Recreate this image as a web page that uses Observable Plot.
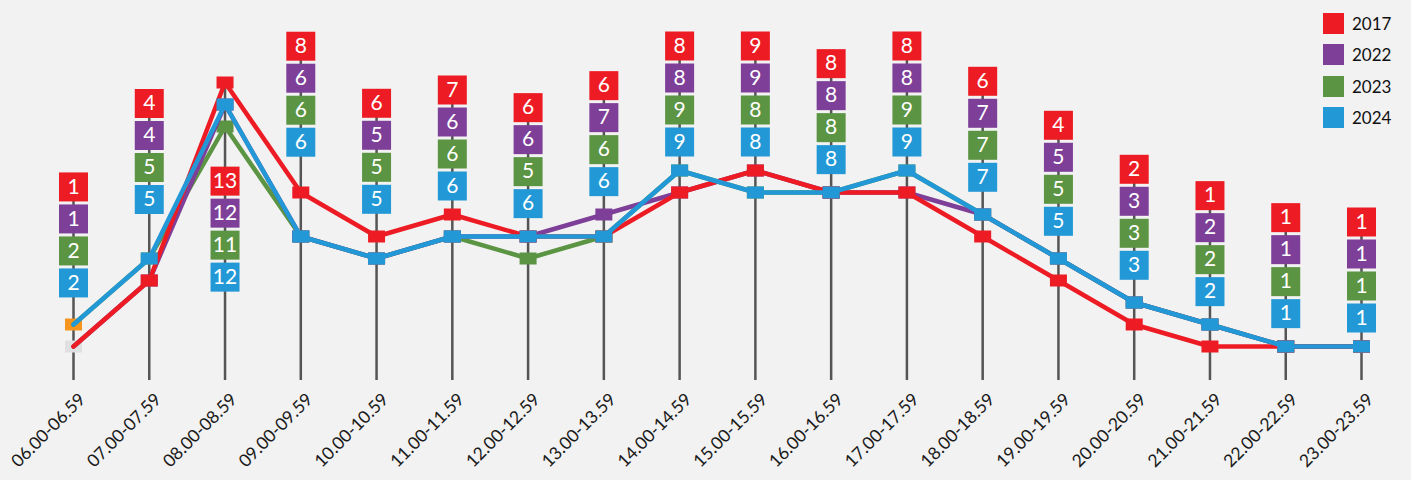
<!DOCTYPE html>
<html>
<head>
<meta charset="utf-8">
<script src="https://cdn.jsdelivr.net/npm/d3@7"></script>
<script src="https://cdn.jsdelivr.net/npm/@observablehq/plot@0.6"></script>
<style>
  html, body { margin: 0; padding: 0; background: #f2f2f2; }
  #wrap { position: relative; width: 1411px; height: 480px; }
  #legend { position: absolute; left: 1323px; top: 13px; font-family: Lato, sans-serif; font-size: 17px; color: #111; }
  #legend .row { display: flex; align-items: center; height: 21px; margin-bottom: 10.3px; }
  #legend .sw { width: 21px; height: 21px; margin-right: 8px; }
</style>
</head>
<body>
<div id="wrap"><div id="legend"></div></div>
<script>
const hours = ["06.00-06.59","07.00-07.59","08.00-08.59","09.00-09.59","10.00-10.59","11.00-11.59",
  "12.00-12.59","13.00-13.59","14.00-14.59","15.00-15.59","16.00-16.59","17.00-17.59",
  "18.00-18.59","19.00-19.59","20.00-20.59","21.00-21.59","22.00-22.59","23.00-23.59"];
const years = ["2017","2022","2023","2024"];
const v2017 = [1,4,13,8,6,7,6,6,8,9,8,8,6,4,2,1,1,1];
const v2022 = [1,4,12,6,5,6,6,7,8,9,8,8,7,5,3,2,1,1];
const v2023 = [2,5,11,6,5,6,5,6,9,8,8,9,7,5,3,2,1,1];
const v2024 = [2,5,12,6,5,6,6,6,9,8,8,9,7,5,3,2,1,1];
const colors = {"2017":"#ed1c24","2022":"#7e3f98","2023":"#5b9443","2024":"#2299d6"};
// first-slot markers that show in other colours in the source
const firstMarkerColors = {"2017":"#e0e0e3","2024":"#f7941d"};
const drawOrder = ["2023","2022","2017","2024"];

const seriesValues = {"2017":v2017,"2022":v2022,"2023":v2023,"2024":v2024};

const W = 1411, H = 480;
const xOpts = {type:"point", domain: hours, range:[73, 1361], padding:0, round:false};
const yOpts = {domain:[0, 368/22], range:[368, 0]};
const xS = Plot.scale({x: xOpts});
const yS = Plot.scale({y: yOpts});
const step = xS.apply(hours[1]) - xS.apply(hours[0]);

const rows = [];
for (const y of years) seriesValues[y].forEach((v,i)=>rows.push({hour:hours[i], i, year:y, value:v}));

// label stacks
const BOX = 29, PITCH = 32, GAP = 14, HALF = 15;
const labels = [], rules = [];
hours.forEach((h,i)=>{
  const cand = [];
  for (const y of years) {
    const s = seriesValues[y];
    cand.push(s[i]);
    for (const j of [i-1,i+1]) if (j>=0 && j<hours.length) cand.push(s[i] + (s[j]-s[i])*HALF/step);
  }
  const hi = Math.max(...cand), lo = Math.min(...cand);
  const stackH = 4*BOX + 3*(PITCH-BOX);
  let top = yS.apply(hi) - GAP - stackH;
  if (top < 20) top = yS.apply(lo) + GAP;
  years.forEach((y,k)=>{
    labels.push({hour:h, year:y, value:seriesValues[y][i], ypos: yS.invert(top + BOX/2 + k*PITCH)});
  });
  const maxV = Math.max(...years.map(y=>seriesValues[y][i]));
  rules.push({hour:h, y1: Math.max(yS.invert(top+4), maxV), y2: yS.invert(380)});
});

const markerSym = {draw(ctx){ ctx.rect(-8.5,-6,17,12); }};
const boxSym = {draw(ctx){ ctx.rect(-BOX/2,-BOX/2,BOX,BOX); }};

const marks = [
  Plot.ruleX(rules, {x:"hour", y1:"y1", y2:"y2", stroke:"#555", strokeWidth:2.5}),
  Plot.dot(rows.filter(d=>d.i===0 && firstMarkerColors[d.year]), {x:"hour", y:"value", symbol:markerSym, r:5, fill:d=>firstMarkerColors[d.year], stroke:"none"})
];
for (const y of drawOrder) {
  const r = rows.filter(d=>d.year===y);
  marks.push(Plot.line(r, {x:"hour", y:"value", stroke:colors[y], strokeWidth:4.5, strokeLinejoin:"round"}));
  marks.push(Plot.dot(r.filter(d=>d.i>0), {x:"hour", y:"value", symbol:markerSym, r:5, fill:colors[y], stroke:"none"}));
}
marks.push(Plot.dot(labels, {x:"hour", y:"ypos", symbol:boxSym, r:5, fill:d=>colors[d.year], stroke:"none"}));
marks.push(Plot.text(labels, {x:"hour", y:"ypos", text:d=>String(d.value), fill:"white", fontSize:21, fontFamily:"Lato"}));
marks.push(Plot.axisX({tickRotate:-45, tickSize:0, tickPadding:28, fontSize:17.5, fontFamily:"Lato", color:"#1a1a1a", dx:9, label:null}));

const chart = Plot.plot({
  width: W, height: H,
  marginTop: 0, marginBottom: 112, marginLeft: 0, marginRight: 0,
  style: {background:"#f2f2f2", fontFamily:"Lato"},
  x: {...xOpts, axis:null, label:null},
  y: {...yOpts, axis:null},
  marks
});
document.getElementById("wrap").prepend(chart);

const leg = document.getElementById("legend");
for (const y of years) {
  const row = document.createElement("div"); row.className = "row";
  const sw = document.createElement("div"); sw.className = "sw"; sw.style.background = colors[y];
  const t = document.createElement("span"); t.textContent = y;
  row.append(sw, t); leg.append(row);
}
</script>
</body>
</html>
